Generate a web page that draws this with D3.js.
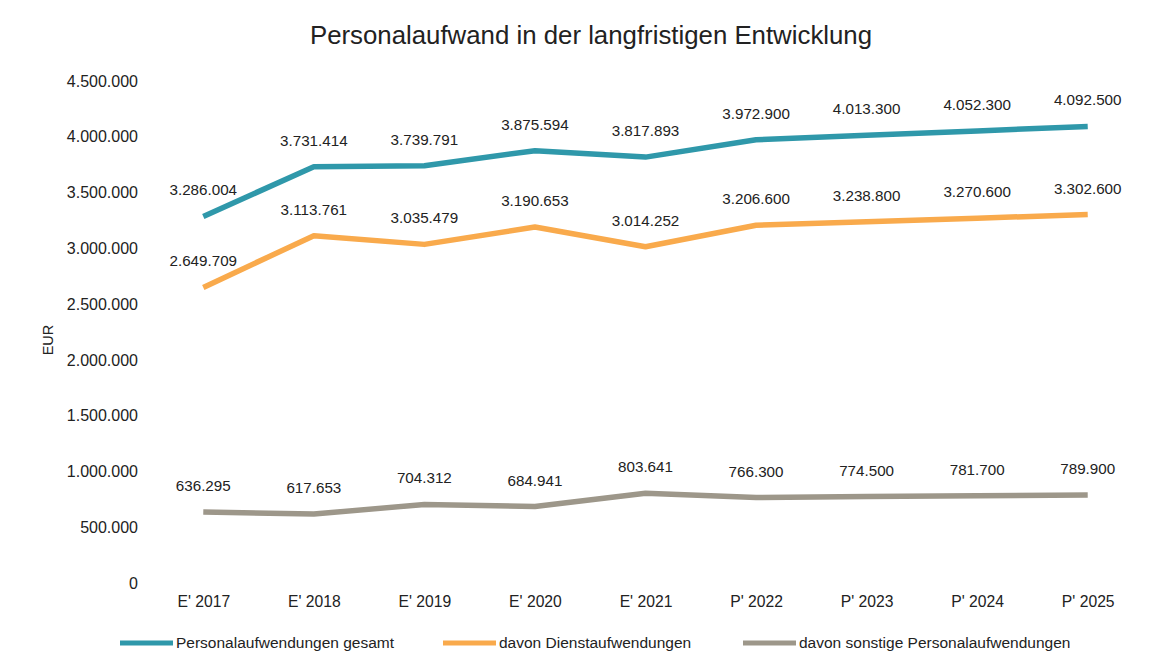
<!DOCTYPE html>
<html><head><meta charset="utf-8">
<script src="https://cdn.jsdelivr.net/npm/d3@7/dist/d3.min.js"></script>
<style>body{margin:0;background:#fff;}text{font-family:"Liberation Sans",Arial,sans-serif;fill:#222;}</style>
</head><body>
<svg id="c" width="1162" height="657"></svg>
<script>
const categories = ["E' 2017","E' 2018","E' 2019","E' 2020","E' 2021","P' 2022","P' 2023","P' 2024","P' 2025"];
const gesamt = [3286004,3731414,3739791,3875594,3817893,3972900,4013300,4052300,4092500];
const dienst = [2649709,3113761,3035479,3190653,3014252,3206600,3238800,3270600,3302600];
const sonstige = [636295,617653,704312,684941,803641,766300,774500,781700,789900];
const yTicks = [0,500000,1000000,1500000,2000000,2500000,3000000,3500000,4000000,4500000];
const seriesNames = ["Personalaufwendungen gesamt","davon Dienstaufwendungen","davon sonstige Personalaufwendungen"];
const colors = ["#2f98aa","#f9aa4c","#9d978a"];

const svg = d3.select("#c");
const fmt = v => v===0 ? "0" : d3.format(",")(v).replace(/,/g,".");
const x = d3.scalePoint().domain(categories).range([148,1143]).padding(0.5);
const y = d3.scaleLinear().domain([0,4500000]).range([583,81]);

svg.append("text").attr("x",591).attr("y",44).attr("text-anchor","middle")
  .style("font-size","25.8px").text("Personalaufwand in der langfristigen Entwicklung");

const ya = svg.append("g").attr("transform","translate(138,0)")
  .call(d3.axisLeft(y).tickValues(yTicks).tickFormat(fmt).tickSize(0).tickPadding(0));
ya.select(".domain").remove();
ya.selectAll("text").style("font-size","16px").style("font-family","'Liberation Sans',Arial,sans-serif").attr("fill","#222");

const xa = svg.append("g").attr("transform","translate(0,596)")
  .call(d3.axisBottom(x).tickSize(0).tickPadding(0));
xa.select(".domain").remove();
xa.selectAll("text").style("font-size","15.7px").style("font-family","'Liberation Sans',Arial,sans-serif").attr("fill","#222");

svg.append("text").attr("transform","translate(53,340) rotate(-90)").attr("text-anchor","middle")
  .style("font-size","14.5px").text("EUR");

const all = [gesamt,dienst,sonstige];
const line = d3.line().x((d,i)=>x(categories[i])).y(d=>y(d));
all.forEach((s,k)=>{
  svg.append("path").datum(s).attr("d",line).attr("fill","none")
    .attr("stroke",colors[k]).attr("stroke-width",5.5).attr("stroke-linejoin","round");
  svg.append("g").selectAll("text").data(s).join("text")
    .attr("x",(d,i)=>x(categories[i])).attr("y",d=>y(d)-21)
    .attr("text-anchor","middle").style("font-size","15.2px").text(fmt);
});

const legX = [120,443,743];
seriesNames.forEach((n,k)=>{
  svg.append("line").attr("x1",legX[k]).attr("x2",legX[k]+53).attr("y1",643).attr("y2",643)
    .attr("stroke",colors[k]).attr("stroke-width",5);
  svg.append("text").attr("x",legX[k]+56).attr("y",648).style("font-size","15.5px").text(n);
});
</script>
</body></html>
